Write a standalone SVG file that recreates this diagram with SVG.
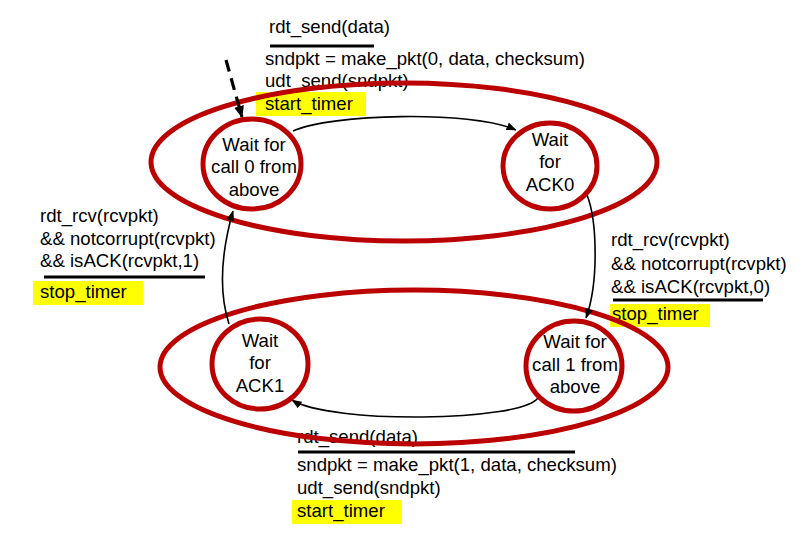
<svg xmlns="http://www.w3.org/2000/svg" width="809" height="552" viewBox="0 0 809 552">
  <style>
    text { font-family: "Liberation Sans", Arial, sans-serif; font-size: 18.6px; fill: #000; }
    .node { fill: #fff; stroke: #bb0000; stroke-width: 5; }
    .group { fill: none; stroke: #bb0000; stroke-width: 5; }
    .edge { fill: none; stroke: #000; stroke-width: 1.6; }
    .dashed { fill: none; stroke: #000; stroke-width: 3.2; stroke-dasharray: 12 7; }
    .bar { stroke: #000; stroke-width: 3; }
    .hl { fill: #ffff00; }
    .c { text-anchor: middle; }
  </style>
  <defs>
    <marker id="ah" markerWidth="10" markerHeight="8" refX="9.5" refY="4" orient="auto" markerUnits="userSpaceOnUse">
      <path d="M0,0 L10,4 L0,8 z" fill="#000"/>
    </marker>
    <marker id="ahd" markerWidth="12" markerHeight="10" refX="11" refY="5" orient="auto" markerUnits="userSpaceOnUse">
      <path d="M0,0 L12,5 L0,10 z" fill="#000"/>
    </marker>
  </defs>

  <g id="labels">
    <g id="label-top">
      <text x="269" y="33">rdt_send(data)</text>
      <line class="bar" x1="270" y1="46" x2="374" y2="46"/>
      <text x="265" y="65">sndpkt = make_pkt(0, data, checksum)</text>
      <text x="265" y="87">udt_send(sndpkt)</text>
      <rect class="hl" x="256" y="92" width="110" height="24"/>
      <text x="265" y="110">start_timer</text>
    </g>
    <g id="label-left">
      <text x="40" y="222">rdt_rcv(rcvpkt)</text>
      <text x="40" y="245">&amp;&amp; notcorrupt(rcvpkt)</text>
      <text x="40" y="267">&amp;&amp; isACK(rcvpkt,1)</text>
      <line class="bar" x1="44" y1="277" x2="205" y2="277"/>
      <rect class="hl" x="33" y="281" width="110" height="24"/>
      <text x="40" y="298">stop_timer</text>
    </g>
    <g id="label-right">
      <text x="611" y="246">rdt_rcv(rcvpkt)</text>
      <text x="611" y="270">&amp;&amp; notcorrupt(rcvpkt)</text>
      <text x="611" y="293">&amp;&amp; isACK(rcvpkt,0)</text>
      <line class="bar" x1="613" y1="300" x2="763" y2="300"/>
      <rect class="hl" x="610" y="304" width="100" height="23"/>
      <text x="612" y="320">stop_timer</text>
    </g>
    <g id="label-bottom">
      <text x="297" y="443">rdt_send(data)</text>
      <line class="bar" x1="298" y1="452" x2="575" y2="452"/>
      <text x="297" y="471">sndpkt = make_pkt(1, data, checksum)</text>
      <text x="297" y="494">udt_send(sndpkt)</text>
      <rect class="hl" x="292" y="500" width="110" height="24"/>
      <text x="297" y="517">start_timer</text>
    </g>
  </g>

  <g id="groups">
    <ellipse id="group-top" class="group" cx="404" cy="162" rx="253" ry="79"/>
    <ellipse id="group-bottom" class="group" cx="414" cy="367" rx="254" ry="77"/>
  </g>

  <g id="connectors">
    <path class="dashed" d="M 226 60 L 242 117" marker-end="url(#ahd)"/>
    <path class="edge" d="M 293 131 C 330 114, 470 110, 516 130" marker-end="url(#ah)"/>
    <path class="edge" d="M 587 195 C 597 220, 599 282, 586 318" marker-end="url(#ah)"/>
    <path class="edge" d="M 538 398 C 520 422, 330 424, 292 400" marker-end="url(#ah)"/>
    <path class="edge" d="M 229 324 C 218 290, 222 250, 233 211" marker-end="url(#ah)"/>
  </g>

  <g id="node-wait-call0">
    <ellipse class="node" cx="252" cy="164" rx="49" ry="45"/>
    <text class="c" x="254" y="151">Wait for</text>
    <text class="c" x="254" y="173">call 0 from</text>
    <text class="c" x="254" y="196">above</text>
  </g>
  <g id="node-wait-ack0">
    <ellipse class="node" cx="550" cy="166" rx="47" ry="43"/>
    <text class="c" x="550" y="146">Wait</text>
    <text class="c" x="550" y="168">for</text>
    <text class="c" x="550" y="191">ACK0</text>
  </g>
  <g id="node-wait-ack1">
    <ellipse class="node" cx="260" cy="364" rx="48" ry="45"/>
    <text class="c" x="260" y="347">Wait</text>
    <text class="c" x="260" y="369">for</text>
    <text class="c" x="260" y="392">ACK1</text>
  </g>
  <g id="node-wait-call1">
    <ellipse class="node" cx="574" cy="366" rx="48" ry="45"/>
    <text class="c" x="575" y="348">Wait for</text>
    <text class="c" x="575" y="371">call 1 from</text>
    <text class="c" x="575" y="393">above</text>
  </g>
</svg>
